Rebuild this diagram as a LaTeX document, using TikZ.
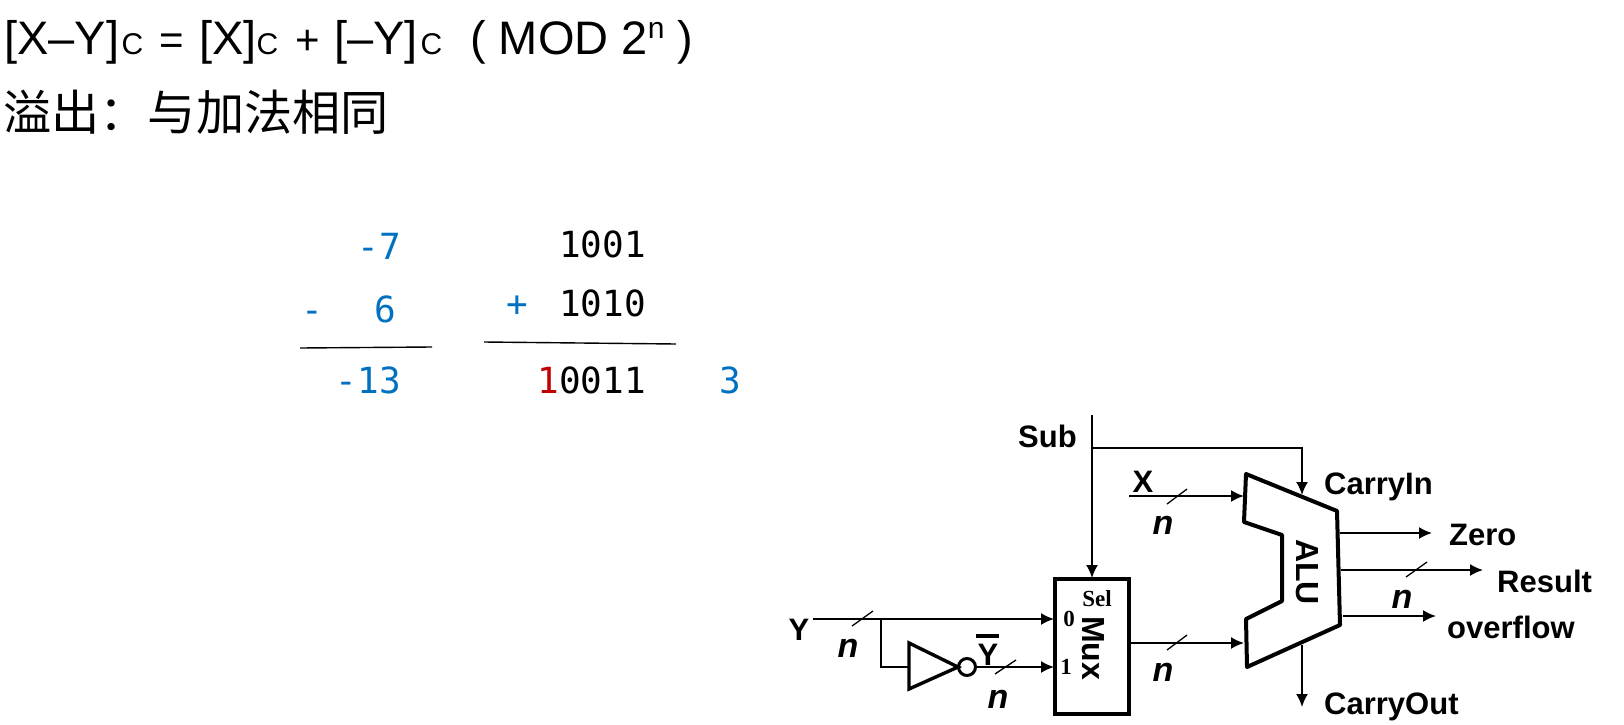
\documentclass[tikz,border=0pt]{standalone}
\usepackage{fontspec}
\setmainfont{Liberation Sans}
\newfontfamily\cjk{Noto Sans CJK SC}
\newfontfamily\code{DejaVu Sans Mono}
\newfontfamily\serifb{Liberation Serif}[BoldFont={Liberation Serif Bold}]
\usetikzlibrary{arrows.meta}
\definecolor{blu}{HTML}{0070C0}
\definecolor{rd}{HTML}{C00000}
\newcommand{\sz}[1]{\fontsize{#1}{#1}\selectfont}
\tikzset{
  x=1pt,y=-1pt,
  wire/.style={line width=1.8pt,draw=black},
  arr/.style={wire,-{Latex[length=13pt,width=12pt]}},
  slash/.style={line width=1.3pt},
  thick box/.style={line width=4pt,draw=black,line join=round},
  mux box/.style={line width=4pt,draw=black,rectangle,inner sep=0pt,minimum width=74pt,minimum height=135.5pt},
  lab/.style={inner sep=0pt,anchor=base west,font=\sz{31}\bfseries},
  nn/.style={inner sep=0pt,anchor=center,font=\sz{34}\bfseries\itshape},
  rot/.style={inner sep=0pt,rotate=-90,anchor=center,font=\sz{32}\bfseries},
  port/.style={inner sep=0pt,anchor=center,font=\serifb\bfseries\sz{23}},
  num/.style={inner sep=0pt,anchor=base east,font=\code\sz{36}},
  sym/.style={inner sep=0pt,anchor=base,font=\code\sz{36},text=blu},
  rule/.style={line width=1.4pt},
  hbig/.style={inner sep=0pt,anchor=base west,font=\sz{47}},
  hsub/.style={inner sep=0pt,anchor=base west,font=\sz{30}},
  hop/.style={inner sep=0pt,anchor=base west,font=\sz{42}},
}
\begin{document}
\begin{tikzpicture}
\useasboundingbox (0,0) rectangle (1624,725);
% heading
\node[hbig] (h1) at (4,55) {[X–Y]};
\node[hsub] (h2) at (121.5,55) {C};
\node[hop] (h3) at (159,55) {=};
\node[hbig] (h4) at (199,55) {[X]};
\node[hsub] (h5) at (256.5,55) {C};
\node[hop] (h6) at (295,55) {+};
\node[hbig] (h7) at (334,55) {[–Y]};
\node[hsub] (h8) at (420.5,55) {C};
\node[hbig] (h9) at (470,55) {( MOD 2\raisebox{16pt}{\sz{30}n} )};
\node[inner sep=0pt,anchor=base west] (cjkline) at (3,130) {\cjk\sz{48.2}溢出^^^^ff1a与加法相同};
% arithmetic
\node[num,text=blu] (a1) at (401,259) {-7};
\node[num,text=blu] (a2) at (396,322) {6};
\node[sym] (a3) at (312,322) {-};
\node[num,text=blu] (a4) at (401,393) {-13};
\node[num] (b1) at (646,257) {1001};
\node[num] (b2) at (646,316) {1010};
\node[sym] (b3) at (517,316) {+};
\node[num] (b4) at (646,393) {\textcolor{rd}{1}0011};
\node[sym] (b5) at (730,393) {3};
\coordinate (r1a) at (300,348); \coordinate (r1b) at (432,347);
\coordinate (r2a) at (484,342); \coordinate (r2b) at (676,344);
\draw[rule] (r1a) -- (r1b);
\draw[rule] (r2a) -- (r2b);
% Mux
\node[mux box] (mux) at (1091.5,646.5) {};
\node[rot] (muxl) at (1093,648) {Mux};
\node[port] (sel) at (1097,599) {Sel};
\node[port] (p0) at (1069,619) {0};
\node[port] (p1) at (1066,667) {1};
% ALU
\draw[thick box] (1246,474) coordinate (A1) -- (1337,511) coordinate (A2) -- (1340,625) coordinate (A3) -- (1247,667) coordinate (A4) -- (1246,619) -- (1282,601) -- (1282,535) -- (1244,522) -- cycle;
\node[rot] (alul) at (1307,572) {ALU};
% inverter
\draw[line width=3.4pt,line join=miter] (909,643) coordinate (T1) -- (958,667) coordinate (T2) -- (909,689) -- cycle;
\node[circle,draw,line width=3pt,minimum size=17pt,inner sep=0pt] (bub) at (967,667) {};
% free ends
\coordinate (sub0) at (1092,415);
\coordinate (subj) at (1092,448);
\coordinate (ci1) at (1302,448);
\coordinate (ci2) at (1302,495);
\coordinate (muxtop) at (1092,578);
\coordinate (x0) at (1129,496); \coordinate (x1) at (1244,496);
\coordinate (y0) at (813,619); \coordinate (y1) at (1054,619);
\coordinate (yj) at (881,619); \coordinate (yk) at (881,667); \coordinate (tin) at (909,667);
\coordinate (ybout) at (1054,667);
\coordinate (mo) at (1130,643); \coordinate (ai) at (1244,643);
\coordinate (z0) at (1340,533); \coordinate (z1) at (1432,533);
\coordinate (r0) at (1341,570); \coordinate (r1) at (1483,570);
\coordinate (o0) at (1343,616); \coordinate (o1) at (1436,616);
\coordinate (c0) at (1302,645); \coordinate (c1) at (1302,707);
% wires
\draw[arr] (sub0) -- (muxtop);
\draw[arr] (subj) -- (ci1) -- (ci2);
\draw[arr] (x0) -- (x1);
\draw[arr] (y0) -- (y1);
\draw[wire] (yj) -- (yk) -- (tin);
\draw[arr] (bub.east) -- (ybout);
\draw[arr] (mo) -- (ai);
\draw[arr] (z0) -- (z1);
\draw[arr] (r0) -- (r1);
\draw[arr] (o0) -- (o1);
\draw[arr] (c0) -- (c1);
% bus slashes
\draw[slash] (1167,504) -- (1187,489);
\draw[slash] (852,626) -- (873,611);
\draw[slash] (995,674) -- (1016,660);
\draw[slash] (1167,650) -- (1187,635);
\draw[slash] (1406,577) -- (1427,562);
% labels
\node[lab] (lsub) at (1018,447) {Sub};
\node[lab,anchor=base] (lx) at (1143,492) {X};
\node[lab,anchor=base] (ly) at (799,640) {Y};
\node[lab,anchor=base] (lyb) at (988,665) {Y};
\coordinate (yb0) at (976,636); \coordinate (yb1) at (999,636);
\draw[line width=3.2pt] (yb0) -- (yb1);
\node[lab] (lci) at (1324,494) {CarryIn};
\node[lab] (lz) at (1449,545) {Zero};
\node[lab] (lr) at (1497,592) {Result};
\node[lab] (lo) at (1447,638) {overflow};
\node[lab] (lco) at (1324,714) {CarryOut};
\node[nn] (n1) at (1163,525) {n};
\node[nn] (n2) at (848,648) {n};
\node[nn] (n3) at (998,699) {n};
\node[nn] (n4) at (1163,672) {n};
\node[nn] (n5) at (1402,599) {n};
\end{tikzpicture}
\end{document}
